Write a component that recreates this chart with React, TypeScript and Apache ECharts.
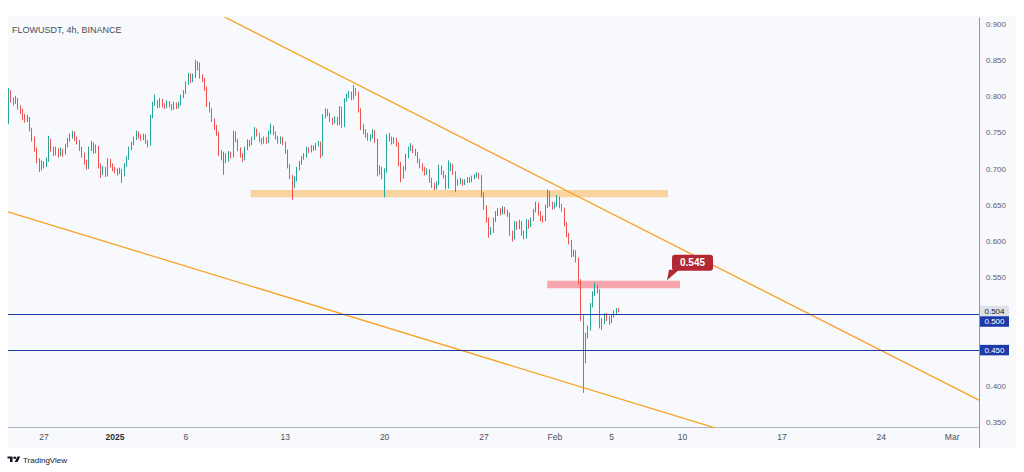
import React, { useEffect, useRef } from "react";
import * as echarts from "echarts";

// x values are days since 2024-12-24 00:00; one candle every 4 hours
const FIRST_CANDLE_DAY = 0.5;
const CANDLE_STEP_DAYS = 4 / 24;
const FIRST_OPEN = 770; // thousandths of USDT

const closes = [
  805, 795, 792, 797, 785, 780, 772, 768, 770, 755,
  742, 728, 712, 700, 708, 705, 712, 740, 728, 722,
  727, 720, 726, 722, 732, 740, 745, 750, 742, 738,
  728, 720, 710, 702, 728, 735, 725, 730, 705, 695,
  700, 692, 712, 705, 700, 698, 695, 698, 692, 705,
  715, 728, 735, 742, 750, 745, 742, 746, 738, 734,
  772, 790, 792, 787, 795, 788, 786, 792, 788, 784,
  790, 786, 790, 800, 806, 818, 830, 822, 828, 840,
  845, 828, 824, 812, 790, 782, 768, 758, 750, 722,
  716, 720, 712, 722, 718, 750, 740, 728, 720, 714,
  728, 738, 735, 742, 755, 748, 740, 738, 742, 738,
  750, 758, 750, 744, 738, 742, 736, 725, 705, 690,
  678, 685, 700, 708, 715, 718, 728, 725, 730, 728,
  733, 736, 720, 772, 780, 776, 768, 765, 770, 763,
  784, 760, 795, 800, 805, 798, 808, 805, 782, 758,
  752, 746, 742, 745, 752, 740, 695, 700, 690, 698,
  745, 742, 738, 740, 735, 708, 690, 700, 718, 728,
  730, 725, 722, 712, 705, 700, 695, 698, 685, 678,
  675, 680, 703, 695, 690, 675, 700, 705, 695, 680,
  682, 684, 680, 683, 686, 684, 688, 690, 693, 690,
  665, 648, 630, 612, 615, 630, 638, 642, 640, 645,
  641, 638, 612, 605, 625, 620, 626, 612, 606, 628,
  622, 630, 642, 652, 640, 632, 630, 648, 668, 652,
  648, 650, 660, 650, 645, 625, 610, 600, 582, 585,
  575, 545, 495, 446, 470, 480, 512, 528, 535, 532,
  485, 490, 498, 494, 490, 498, 502, 506, 504,
];

const highs = [
  812, 809, 799, 801, 798, 788, 783, 776, 775, 772,
  757, 745, 730, 715, 712, 711, 716, 746, 742, 731,
  731, 729, 730, 728, 735, 743, 749, 753, 752, 745,
  740, 731, 723, 713, 731, 739, 737, 734, 732, 708,
  704, 703, 715, 714, 708, 703, 701, 702, 700, 708,
  718, 731, 738, 745, 753, 752, 748, 749, 748, 740,
  775, 793, 803, 795, 798, 797, 791, 795, 794, 790,
  793, 792, 793, 803, 809, 821, 833, 832, 832, 851,
  849, 847, 831, 826, 814, 793, 784, 770, 761, 752,
  726, 724, 722, 725, 724, 753, 752, 742, 730, 722,
  731, 741, 740, 745, 758, 756, 750, 743, 745, 744,
  753, 763, 760, 752, 746, 745, 744, 738, 727, 707,
  692, 690, 703, 711, 718, 722, 731, 730, 733, 733,
  736, 739, 738, 776, 784, 783, 778, 771, 773, 772,
  787, 786, 798, 804, 808, 807, 816, 812, 807, 784,
  762, 755, 750, 748, 755, 754, 742, 705, 703, 701,
  748, 750, 745, 744, 743, 737, 710, 704, 721, 731,
  736, 733, 728, 724, 714, 708, 703, 701, 700, 688,
  681, 683, 706, 705, 698, 692, 712, 709, 707, 697,
  686, 688, 686, 686, 689, 689, 691, 693, 696, 695,
  692, 668, 650, 633, 620, 633, 642, 646, 646, 649,
  648, 644, 640, 615, 628, 628, 630, 628, 615, 631,
  630, 633, 645, 655, 654, 642, 636, 651, 672, 670,
  655, 654, 664, 662, 652, 647, 627, 612, 602, 589,
  588, 578, 548, 498, 474, 484, 515, 531, 543, 540,
  534, 494, 501, 501, 497, 500, 505, 508, 508,
];

const lows = [
  762, 792, 788, 790, 782, 776, 768, 764, 765, 752,
  738, 724, 708, 696, 698, 701, 703, 710, 724, 718,
  719, 716, 718, 717, 720, 730, 738, 742, 739, 734,
  725, 716, 706, 699, 700, 725, 721, 722, 701, 688,
  692, 689, 690, 702, 697, 694, 691, 693, 681, 690,
  703, 713, 726, 733, 740, 742, 739, 740, 735, 730,
  732, 770, 787, 784, 785, 785, 783, 784, 785, 781,
  782, 783, 784, 788, 798, 804, 816, 819, 820, 826,
  836, 825, 820, 808, 786, 778, 765, 754, 746, 718,
  712, 692, 708, 710, 715, 716, 737, 725, 716, 710,
  712, 726, 731, 733, 740, 745, 737, 734, 735, 735,
  736, 748, 747, 741, 735, 735, 733, 721, 701, 686,
  657, 674, 683, 698, 706, 713, 716, 722, 723, 725,
  726, 731, 715, 718, 770, 773, 765, 761, 763, 760,
  761, 757, 758, 793, 798, 795, 796, 801, 778, 754,
  748, 743, 739, 738, 742, 736, 690, 692, 686, 661,
  695, 738, 734, 735, 731, 704, 682, 687, 698, 715,
  725, 722, 718, 708, 701, 697, 691, 692, 681, 674,
  671, 672, 678, 692, 687, 672, 673, 697, 692, 668,
  677, 679, 677, 678, 681, 681, 682, 686, 688, 686,
  661, 644, 626, 605, 609, 612, 627, 635, 636, 637,
  638, 634, 608, 600, 603, 616, 617, 608, 603, 604,
  618, 620, 628, 640, 636, 628, 626, 628, 646, 648,
  644, 645, 648, 646, 641, 621, 606, 596, 578, 579,
  571, 540, 490, 391, 432, 466, 477, 509, 525, 528,
  480, 478, 486, 490, 485, 487, 495, 499, 502,
];

const X_MIN = 0.458;
const X_MAX = 68.89;
const Y_MIN = 0.3438;
const Y_MAX = 0.9087;

const dateTickDays = [3, 8, 13, 20, 27, 34, 39, 43, 48, 55, 62, 67];
const dateTickLabels = ["27", "2025", "6", "13", "20", "27", "Feb", "5", "10", "17", "24", "Mar"];
const priceTicks = [0.35, 0.4, 0.55, 0.6, 0.65, 0.7, 0.75, 0.8, 0.85, 0.9];

const levelLines = [0.5, 0.45];
const lastPrice = 0.504;
// [dayFrom, dayTo, priceLow, priceHigh]
const supportZone = [17.56, 46.97, 0.661, 0.671];
const resistanceZone = [38.46, 47.82, 0.5354, 0.5459];
const resistanceLabel = "0.545";
const upperTrend = [
  [14, 0.9272],
  [68.89, 0.3809],
];
const lowerTrend = [
  [0.458, 0.6409],
  [52, 0.3323],
];

const TITLE = "FLOWUSDT, 4h, BINANCE";

let logoRegistered = false;
function registerLogo() {
  if (logoRegistered) return;
  logoRegistered = true;
  const d =
    "M14 22H7V11H0V4h14v18zM28 22h-8l7.5-18h8L28 22zM20 12a4 4 0 1 0 0-8 4 4 0 0 0 0 8z";
  echarts.graphic.registerShape("tvlogo", echarts.graphic.extendPath(d, {}));
}

export default function App() {
  const ref = useRef<HTMLDivElement>(null);

  useEffect(() => {
    if (!ref.current) return;
    registerLogo();
    const chart = echarts.init(ref.current, null, { renderer: "svg" });

    const candles: number[][] = [];
    let open = FIRST_OPEN;
    closes.forEach((c, i) => {
      candles.push([
        FIRST_CANDLE_DAY + i * CANDLE_STEP_DAYS,
        open / 1000,
        c / 1000,
        lows[i] / 1000,
        highs[i] / 1000,
      ]);
      open = c;
    });

    const font = "Liberation Sans";

    chart.setOption({
      animation: false,
      backgroundColor: "#ffffff",
      grid: {
        left: 8,
        right: 45,
        top: 18,
        bottom: 45,
        show: true,
        backgroundColor: "#f8f9fd",
        borderWidth: 0,
      },
      xAxis: {
        type: "value",
        min: X_MIN,
        max: X_MAX,
        axisLine: { show: true, lineStyle: { color: "#b2b5be", width: 1 } },
        axisTick: { show: false },
        splitLine: { show: false },
        axisLabel: {
          customValues: dateTickDays,
          color: "#4c4f58",
          fontSize: 8.5,
          fontFamily: font,
          margin: 5,
          formatter: (v: number) => {
            const i = dateTickDays.indexOf(Math.round(v));
            const s = i >= 0 ? dateTickLabels[i] : "";
            return s === "2025" ? "{b|2025}" : s;
          },
          rich: {
            b: { fontWeight: "bold", fontSize: 8.5, fontFamily: font, color: "#2a2e39" },
          },
        },
      },
      yAxis: {
        type: "value",
        position: "right",
        min: Y_MIN,
        max: Y_MAX,
        axisLine: { show: true, lineStyle: { color: "#9598a1", width: 1 } },
        axisTick: { show: false },
        splitLine: { show: false },
        axisLabel: {
          customValues: priceTicks,
          formatter: (v: number) => v.toFixed(3),
          color: "#5d606b",
          fontSize: 8,
          fontFamily: font,
          margin: 7,
        },
      },
      series: [
        {
          type: "line",
          data: [],
          z: 1,
          silent: true,
          markArea: {
            silent: true,
            data: [
              [
                { xAxis: supportZone[0], yAxis: supportZone[2], itemStyle: { color: "#f9d3a0" } },
                { xAxis: supportZone[1], yAxis: supportZone[3] },
              ],
              [
                { xAxis: resistanceZone[0], yAxis: resistanceZone[2], itemStyle: { color: "#f5a7ad" } },
                { xAxis: resistanceZone[1], yAxis: resistanceZone[3] },
              ],
            ],
          },
        },
        {
          type: "line",
          data: [],
          z: 2,
          silent: true,
          markLine: {
            silent: true,
            symbol: ["none", "none"],
            label: { show: false },
            lineStyle: { color: "#1f3aa3", width: 1.2, type: "solid" },
            data: levelLines.map((v) => ({ yAxis: v })),
          },
        },
        {
          type: "candlestick",
          data: candles,
          encode: { x: 0, y: [1, 2, 3, 4] },
          barWidth: 1,
          z: 3,
          silent: true,
          itemStyle: {
            color: "#26a69a",
            color0: "#ef5350",
            borderColor: "#26a69a",
            borderColor0: "#ef5350",
            borderWidth: 1,
          },
        },
        {
          type: "line",
          data: upperTrend,
          symbol: "none",
          silent: true,
          z: 4,
          lineStyle: { color: "#f7a325", width: 1.3 },
        },
        {
          type: "line",
          data: lowerTrend,
          symbol: "none",
          silent: true,
          z: 4,
          lineStyle: { color: "#f7a325", width: 1.3 },
        },
      ],
    });

    const toPx = (x: number, y: number) =>
      chart.convertToPixel({ gridIndex: 0 }, [x, y]) as number[];

    const y504 = toPx(X_MIN, lastPrice)[1];
    const y500 = Math.max(toPx(X_MIN, levelLines[0])[1], y504 + 10.5);
    const y450 = toPx(X_MIN, levelLines[1])[1];
    const axisX = toPx(X_MAX, Y_MIN)[0];
    const gridBottom = toPx(X_MIN, Y_MIN)[1];

    const priceBox = (cy: number, text: string, bg: string, fg: string) => [
      {
        type: "rect",
        z: 20,
        shape: { x: axisX + 1, y: cy - 5.25, width: 29, height: 10.5 },
        style: { fill: bg },
      },
      {
        type: "text",
        z: 21,
        x: axisX + 15.5,
        y: cy,
        style: {
          text,
          fill: fg,
          font: `8px "${font}"`,
          align: "center",
          verticalAlign: "middle",
        },
      },
    ];

    const anchor = toPx(resistanceZone[1], resistanceZone[3]);
    const ax = anchor[0];
    const ay = anchor[1];

    chart.setOption({
      graphic: [
        {
          type: "rect",
          z: -10,
          silent: true,
          shape: { x: 8, y: 16, width: 1008, height: 432 },
          style: { fill: "#f8f9fd" },
        },
        {
          type: "line",
          z: 5,
          silent: true,
          shape: { x1: axisX + 0.5, y1: gridBottom, x2: axisX + 0.5, y2: 448 },
          style: { stroke: "#9598a1", lineWidth: 1 },
        },
        {
          type: "text",
          z: 10,
          x: 12,
          y: 30,
          style: {
            text: TITLE,
            fill: "#4a4d56",
            font: `9px "${font}"`,
            verticalAlign: "middle",
          },
        },
        ...priceBox(y504, lastPrice.toFixed(3), "#dfe1e8", "#131722"),
        ...priceBox(y500, levelLines[0].toFixed(3), "#1c3aa9", "#ffffff"),
        ...priceBox(y450, levelLines[1].toFixed(3), "#1c3aa9", "#ffffff"),
        {
          type: "polygon",
          z: 20,
          shape: {
            points: [
              [ax - 13, ay - 0.5],
              [ax - 11, ay - 11],
              [ax - 1, ay - 11],
            ],
          },
          style: { fill: "#b22833" },
        },
        {
          type: "rect",
          z: 20,
          shape: { x: ax - 8, y: ay - 26, width: 41, height: 16, r: 3 },
          style: { fill: "#b22833" },
        },
        {
          type: "text",
          z: 21,
          x: ax + 12.5,
          y: ay - 18,
          style: {
            text: resistanceLabel,
            fill: "#ffffff",
            font: `bold 10px "${font}"`,
            align: "center",
            verticalAlign: "middle",
          },
        },
        {
          type: "tvlogo",
          z: 20,
          x: 7.5,
          y: 455.3,
          scaleX: 0.36,
          scaleY: 0.3,
          style: { fill: "#131722" },
        },
        {
          type: "text",
          z: 20,
          x: 23,
          y: 460,
          style: {
            text: "TradingView",
            fill: "#131722",
            font: `8px "${font}"`,
            verticalAlign: "middle",
          },
        },
      ],
    });

    return () => {
      chart.dispose();
    };
  }, []);

  return (
    <div
      ref={ref}
      style={{ position: "fixed", left: 0, top: 0, width: 1024, height: 472 }}
    />
  );
}
